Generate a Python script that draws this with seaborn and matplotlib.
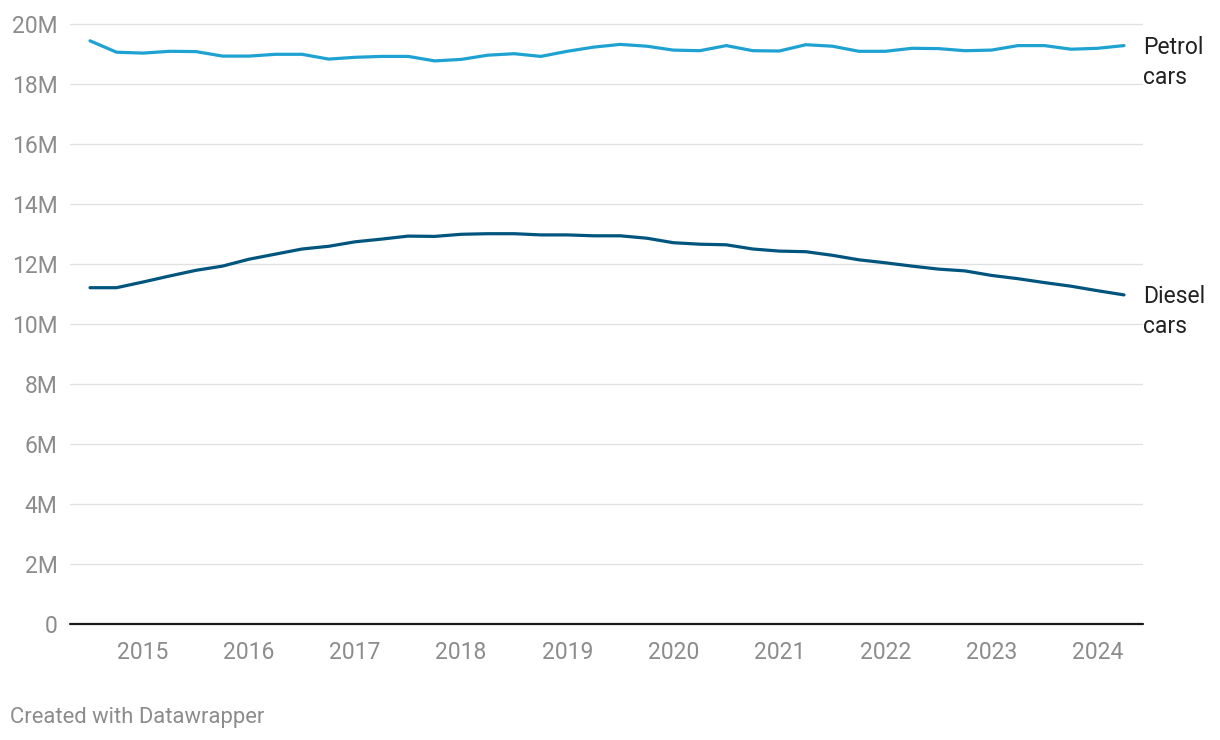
import matplotlib
matplotlib.use("Agg")
import matplotlib.pyplot as plt
import seaborn as sns
import pandas as pd
import numpy as np

# ---- data (millions of cars, quarterly from 2014 Q3 to 2024 Q2) ----
quarters = pd.date_range("2014-07-01", periods=40, freq="QS")
petrol = [19.44, 19.06, 19.03, 19.09, 19.08, 18.93, 18.93, 18.99, 18.99, 18.83,
          18.89, 18.92, 18.92, 18.77, 18.82, 18.96, 19.01, 18.92, 19.09, 19.23,
          19.32, 19.26, 19.13, 19.11, 19.28, 19.11, 19.10, 19.31, 19.26, 19.09,
          19.09, 19.19, 19.18, 19.11, 19.13, 19.28, 19.28, 19.16, 19.19, 19.28]
diesel = [11.21, 11.21, 11.40, 11.60, 11.79, 11.93, 12.16, 12.33, 12.50, 12.59,
          12.74, 12.83, 12.93, 12.92, 12.99, 13.01, 13.01, 12.97, 12.97, 12.94,
          12.94, 12.86, 12.71, 12.66, 12.64, 12.50, 12.43, 12.41, 12.29, 12.14,
          12.04, 11.93, 11.83, 11.77, 11.62, 11.51, 11.38, 11.26, 11.11, 10.97]
series_names = ["Petrol cars", "Diesel cars"]
series_labels = ["Petrol\ncars", "Diesel\ncars"]
colors = ["#1ea2d2", "#00557f"]
year_ticks = list(range(2015, 2025))
y_ticks = list(range(0, 22, 2))
y_tick_labels = ["0"] + [f"{v}M" for v in y_ticks[1:]]

xdec = quarters.year + (quarters.month - 1) / 12.0
df = pd.DataFrame({
    "x": np.concatenate([xdec, xdec]),
    "value": petrol + diesel,
    "series": [series_names[0]] * len(petrol) + [series_names[1]] * len(diesel),
})

sns.set_theme(style="white")
plt.rcParams["font.family"] = ["Roboto", "DejaVu Sans"]

W, H = 1220, 740
fig = plt.figure(figsize=(W / 100, H / 100), dpi=100)
ax_left, ax_right = 70, 1143
ax_bottom_px, ax_top_px = 624, 18
ymax = 20.2
ax = fig.add_axes([ax_left / W, (H - ax_bottom_px) / H,
                   (ax_right - ax_left) / W, (ax_bottom_px - ax_top_px) / H])

sns.lineplot(data=df, x="x", y="value", hue="series", palette=colors,
             hue_order=series_names, linewidth=2.3, legend=False, ax=ax)

# x limits: data first point at px 90, last at px 1124
ppy = (1124 - 90) / (xdec[-1] - xdec[0])
ax.set_xlim(xdec[0] - (90 - ax_left) / ppy, xdec[-1] + (ax_right - 1124) / ppy)
ax.set_ylim(0, ymax)

for s in ax.spines.values():
    s.set_visible(False)
ax.axhline(0, color="#1a1a1a", linewidth=1.6, zorder=3, clip_on=False)

ax.set_yticks(y_ticks)
ax.set_yticklabels(y_tick_labels)
ax.set_xticks(year_ticks)
ax.set_xticklabels([str(y) for y in year_ticks])
ax.yaxis.grid(True, color="#e1e1e1", linewidth=1.0)
ax.xaxis.grid(False)
ax.set_axisbelow(True)
ax.tick_params(axis="y", length=0, pad=9, labelsize=16.5, labelcolor="#8c8c8c")
ax.tick_params(axis="x", length=0, pad=12, labelsize=16.5, labelcolor="#8c8c8c")
ax.set_xlabel("")
ax.set_ylabel("")

# end labels
for vals, lab in zip([petrol, diesel], series_labels):
    ax.annotate(lab, xy=(xdec[-1], vals[-1]), xytext=(14, -12),
                textcoords="offset points", va="center", ha="left",
                fontsize=16.5, color="#222222", linespacing=1.4,
                annotation_clip=False)

fig.text(10 / W, 1 - 717 / H, "Created with Datawrapper", ha="left", va="center",
         fontsize=15.8, color="#8c8c8c")

fig.savefig("out.png", dpi=100, facecolor="white")
